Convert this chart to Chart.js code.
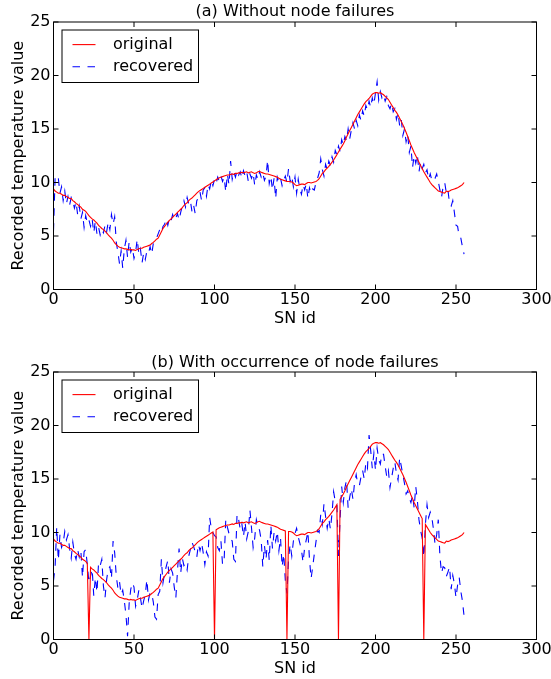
<!DOCTYPE html>
<html>
<head>
<meta charset="utf-8">
<script src="https://cdn.jsdelivr.net/npm/chart.js@4/dist/chart.umd.min.js"></script>
<style>
  html, body { margin: 0; padding: 0; background: #fff; overflow: hidden; }
  .panel { position: absolute; left: 0; width: 551px; }
  #panelA { top: 0; height: 340px; }
  #panelB { top: 340px; height: 339px; }
</style>
</head>
<body>
<div class="panel" id="panelA"><canvas id="chartA"></canvas></div>
<div class="panel" id="panelB"><canvas id="chartB"></canvas></div>
<script>
// SN ids 0..255 on the x axis
const sensorIds = Array.from({length: 256}, (_, i) => i);

// ids whose reading dropped to 0 in panel (b)
const failedNodes = [22, 100, 145, 177, 230];

const originalTemp = [
  9.4, 9.2, 9.1, 9.0, 9.0, 8.9, 8.8, 8.8, 8.7, 8.6, 8.5, 8.5, 8.3, 8.2, 8.05, 7.95,
  7.8, 7.7, 7.5, 7.4, 7.3, 7.1, 6.9, 6.75, 6.6, 6.5, 6.35, 6.2, 6.0, 5.85, 5.7, 5.6,
  5.45, 5.3, 5.1, 4.95, 4.8, 4.6, 4.35, 4.2, 4.05, 3.95, 3.9, 3.85, 3.8, 3.8, 3.75, 3.7,
  3.75, 3.7, 3.7, 3.65, 3.75, 3.8, 3.85, 3.85, 3.95, 4.0, 4.05, 4.1, 4.15, 4.3, 4.4, 4.55,
  4.7, 4.8, 5.1, 5.4, 5.7, 5.9, 6.1, 6.3, 6.45, 6.6, 6.75, 6.9, 7.05, 7.2, 7.35, 7.5,
  7.65, 7.85, 8.0, 8.1, 8.3, 8.45, 8.55, 8.7, 8.85, 9.0, 9.15, 9.25, 9.35, 9.45, 9.55, 9.65,
  9.75, 9.85, 9.95, 10.05, 10.15, 10.25, 10.35, 10.45, 10.5, 10.55, 10.6, 10.65, 10.7, 10.7, 10.75, 10.8,
  10.75, 10.85, 10.85, 10.9, 10.9, 10.95, 10.9, 10.95, 11.0, 10.9, 10.95, 11.0, 10.9, 10.85, 10.9, 11.0,
  11.05, 10.95, 10.9, 10.85, 10.8, 10.8, 10.75, 10.7, 10.65, 10.6, 10.55, 10.5, 10.4, 10.3, 10.25, 10.2,
  10.15, 10.1, 10.1, 10.1, 10.05, 9.95, 9.8, 9.7, 9.75, 9.8, 9.85, 9.85, 9.8, 9.9, 10.0, 10.0,
  9.95, 10.0, 10.05, 10.1, 10.2, 10.35, 10.6, 10.85, 11.0, 11.2, 11.35, 11.5, 11.7, 11.9, 12.1, 12.35,
  12.6, 12.85, 13.1, 13.35, 13.6, 13.9, 14.25, 14.55, 14.85, 15.15, 15.45, 15.75, 16.05, 16.35, 16.6, 16.85,
  17.1, 17.35, 17.55, 17.7, 17.85, 18.05, 18.25, 18.35, 18.4, 18.4, 18.35, 18.4, 18.3, 18.2, 18.05, 17.9,
  17.75, 17.5, 17.25, 17.0, 16.75, 16.55, 16.3, 16.0, 15.7, 15.4, 15.05, 14.7, 14.3, 13.9, 13.5, 13.15,
  12.8, 12.5, 12.2, 11.9, 11.6, 11.3, 11.0, 10.75, 10.5, 10.25, 10.0, 9.8, 9.65, 9.5, 9.35, 9.2,
  9.15, 9.1, 9.05, 9.0, 9.2, 9.15, 9.2, 9.3, 9.35, 9.4, 9.45, 9.5, 9.6, 9.7, 9.8, 10.0
];

const recoveredA = [
  5.5, 10.5, 10.2, 10.4, 9.0, 9.6, 8.3, 9.2, 8.0, 8.7, 7.9, 8.6, 8.3, 7.6, 8.2, 7.0,
  7.8, 6.6, 7.2, 5.8, 6.9, 6.2, 6.5, 5.9, 6.6, 5.3, 6.4, 5.2, 5.8, 5.1, 5.6, 5.3,
  6.0, 5.4, 6.3, 5.6, 7.0, 6.1, 6.8, 4.4, 3.5, 2.4, 3.6, 2.0, 3.8, 4.6, 3.0, 4.5,
  3.5, 3.9, 2.9, 3.5, 4.7, 3.3, 3.8, 2.5, 3.4, 2.8, 3.6, 3.4, 4.0, 3.3, 4.3, 4.5,
  4.8, 5.2, 5.6, 5.3, 5.9, 6.1, 6.6, 6.0, 6.7, 6.4, 7.0, 6.5, 6.7, 7.1, 6.5, 7.2,
  7.8, 8.3, 7.7, 8.6, 8.0, 8.3, 7.3, 7.9, 7.1, 8.3, 8.6, 9.1, 8.3, 9.3, 9.5, 8.7,
  9.8, 9.4, 10.2, 9.7, 10.3, 9.9, 10.5, 10.1, 10.6, 10.1, 10.5, 9.1, 10.8, 9.8, 12.0, 10.3,
  11.0, 10.5, 11.1, 10.7, 11.0, 10.4, 11.1, 10.6, 11.0, 10.1, 10.8, 10.4, 10.9, 9.7, 10.7, 10.3,
  11.0, 10.5, 10.9, 10.2, 10.6, 12.1, 9.9, 10.6, 9.3, 10.4, 8.5, 10.5, 10.0, 10.4, 9.7, 10.2,
  10.6, 10.0, 11.3, 10.1, 10.6, 9.6, 10.5, 9.0, 10.3, 9.4, 8.9, 9.8, 9.3, 9.9, 8.5, 9.5,
  9.0, 9.4, 9.3, 10.0, 10.4, 10.9, 12.2, 11.2, 10.6, 11.7, 11.2, 12.0, 11.6, 12.4, 11.9, 13.0,
  12.6, 13.4, 12.9, 14.0, 13.5, 14.3, 13.9, 15.0, 14.1, 14.9, 15.6, 15.0, 15.8, 15.3, 16.3, 15.8,
  16.7, 16.2, 17.2, 16.8, 17.6, 17.0, 17.9, 17.3, 18.4, 19.4, 17.7, 18.5, 17.9, 18.2, 17.6, 18.0,
  17.2, 16.9, 17.4, 16.6, 16.9, 15.9, 16.5, 15.3, 15.9, 14.4, 15.0, 13.8, 14.5, 12.8, 13.4, 11.4,
  12.5, 11.8, 12.6, 11.0, 11.9, 11.3, 11.7, 10.9, 11.2, 10.3, 10.8, 10.2, 10.5, 10.4, 10.8, 10.1,
  9.3, 8.6, 9.6, 10.0, 9.0, 9.3, 8.0, 7.8, 8.3, 7.2, 6.0, 5.9, 4.9, 4.8, 4.0, 3.3
];

const recoveredB = [
  5.5, 6.8, 10.5, 7.4, 9.8, 8.6, 9.0, 10.1, 9.3, 9.8, 8.5, 7.6, 9.1, 8.0, 7.5, 8.4,
  7.7, 8.3, 5.8, 8.2, 8.4, 7.0, 5.3, 5.9, 6.6, 4.1, 5.8, 4.4, 7.2, 6.9, 7.5, 5.0,
  3.9, 5.6, 6.6, 6.8, 5.7, 9.2, 8.1, 5.9, 4.8, 5.4, 4.2, 4.6, 3.6, 2.3, 0.3, 3.4,
  4.7, 5.3, 4.9, 3.1, 3.7, 4.6, 3.9, 2.9, 3.6, 4.2, 5.6, 3.7, 4.4, 4.3, 3.5, 2.1,
  1.9, 4.2, 4.5, 7.5, 5.3, 6.2, 6.8, 7.4, 5.3, 6.6, 6.2, 4.9, 3.9, 6.4, 8.5, 6.2,
  7.6, 6.9, 7.1, 6.5, 7.8, 8.4, 9.1, 8.7, 8.2, 7.7, 8.9, 8.3, 9.0, 8.1, 7.0, 8.2,
  7.8, 11.4, 10.4, 10.0, 9.7, 9.6, 8.6, 8.3, 9.2, 7.0, 7.5, 11.2, 10.5, 9.9, 9.4, 9.2,
  7.5, 7.3, 11.7, 11.2, 10.3, 10.8, 9.6, 11.0, 9.4, 10.1, 12.1, 10.4, 8.6, 9.5, 11.2, 10.6,
  10.2, 9.3, 6.8, 8.8, 7.5, 9.3, 7.4, 10.7, 8.5, 10.0, 9.2, 10.1, 8.3, 9.5, 6.8, 8.0,
  5.5, 4.3, 7.6, 8.9, 7.8, 9.2, 9.9, 10.4, 9.6, 9.0, 8.4, 7.2, 8.6, 9.3, 10.1, 7.5,
  5.7, 6.8, 8.0, 9.1, 10.2, 10.0, 11.7, 10.8, 12.7, 11.5, 10.4, 11.3, 10.3, 11.8, 13.8, 12.9,
  12.8, 7.8, 11.2, 14.3, 12.8, 14.2, 14.9, 12.3, 13.3, 14.1, 13.1, 14.7, 15.4, 14.5, 14.4, 15.2,
  15.8, 15.0, 16.5, 16.0, 19.1, 17.7, 16.0, 17.4, 15.8, 17.9, 16.8, 16.4, 17.4, 17.3, 16.2, 15.2,
  15.8, 14.2, 15.1, 16.0, 16.6, 15.5, 14.9, 17.0, 16.2, 15.4, 14.6, 13.6, 13.9, 13.2, 12.8, 13.5,
  12.3, 14.3, 13.0, 11.2, 10.2, 9.5, 7.7, 10.8, 12.6, 11.4, 11.9, 11.4, 10.3, 8.9, 9.8, 11.2,
  7.8, 6.2, 6.8, 6.7, 5.9, 6.3, 6.8, 4.7, 6.0, 5.2, 3.9, 5.1, 5.8, 4.5, 3.6, 2.2
];

// original curve in (b): same readings, failed nodes report 0
const originalB = originalTemp.map((v, i) => failedNodes.includes(i) ? 0 : v);

Chart.defaults.font.family = '"DejaVu Sans", sans-serif';
Chart.defaults.font.size = 16;
Chart.defaults.color = '#000';

// matplotlib-like box with inward ticks on all four sides
const framePlugin = {
  id: 'frame',
  afterDatasetsDraw(chart) {
    const {ctx, chartArea: a, scales: {x, y}} = chart;
    ctx.save();
    ctx.strokeStyle = '#000';
    ctx.lineWidth = 1;
    ctx.strokeRect(a.left, a.top, a.right - a.left, a.bottom - a.top);
    ctx.beginPath();
    x.ticks.forEach(t => {
      const px = x.getPixelForValue(t.value);
      ctx.moveTo(px, a.bottom); ctx.lineTo(px, a.bottom - 5);
      ctx.moveTo(px, a.top); ctx.lineTo(px, a.top + 5);
    });
    y.ticks.forEach(t => {
      const py = y.getPixelForValue(t.value);
      ctx.moveTo(a.left, py); ctx.lineTo(a.left + 5, py);
      ctx.moveTo(a.right, py); ctx.lineTo(a.right - 5, py);
    });
    ctx.stroke();
    ctx.restore();
  }
};

// legend drawn inside the upper left corner of the plot
const boxLegendPlugin = {
  id: 'boxLegend',
  afterDraw(chart) {
    const {ctx, chartArea: a} = chart;
    const left = a.left + 8.5, top = a.top + 8;
    ctx.save();
    ctx.fillStyle = '#fff';
    ctx.fillRect(left, top, 136.5, 52.5);
    ctx.strokeStyle = '#000';
    ctx.lineWidth = 1;
    ctx.strokeRect(left, top, 136.5, 52.5);
    chart.data.datasets.forEach((ds, i) => {
      const yy = top + 14.6 + i * 22.2;
      ctx.strokeStyle = ds.borderColor;
      ctx.lineWidth = ds.borderWidth;
      ctx.setLineDash(ds.borderDash || []);
      ctx.beginPath();
      ctx.moveTo(left + 10.5, yy);
      ctx.lineTo(left + 33.5, yy);
      ctx.stroke();
      ctx.setLineDash([]);
      ctx.fillStyle = '#000';
      ctx.font = '16px "DejaVu Sans"';
      ctx.textAlign = 'left';
      ctx.textBaseline = 'middle';
      ctx.fillText(ds.label, left + 51, yy);
    });
    ctx.restore();
  }
};

function buildChart(canvasId, titleText, original, recovered, titlePad, xScaleHeight, xTitlePad) {
  return new Chart(document.getElementById(canvasId), {
    type: 'line',
    data: {
      labels: sensorIds,
      datasets: [
        {label: 'original', data: original, borderColor: '#ff0000', borderWidth: 1.1,
         pointRadius: 0, tension: 0, fill: false},
        {label: 'recovered', data: recovered, borderColor: '#0000ff', borderWidth: 1.1,
         borderDash: [7.5, 7.5], pointRadius: 0, tension: 0, fill: false}
      ]
    },
    options: {
      responsive: true,
      maintainAspectRatio: false,
      animation: false,
      layout: {padding: {left: 0, right: 14.5, top: 0, bottom: 0}},
      scales: {
        x: {
          type: 'linear', min: 0, max: 300,
          ticks: {stepSize: 50, padding: 1, maxRotation: 0},
          grid: {display: false, drawTicks: false},
          border: {display: false},
          title: {display: true, text: 'SN id', padding: {top: 0, bottom: xTitlePad}},
          afterFit: s => { s.height = xScaleHeight; s.paddingLeft = 0; s.paddingRight = 0; }
        },
        y: {
          min: 0, max: 25,
          ticks: {stepSize: 5, padding: 3},
          grid: {display: false, drawTicks: false},
          border: {display: false},
          title: {display: true, text: 'Recorded temperature value', padding: {top: 9, bottom: 0}},
          afterFit: s => { s.width = 53.5; }
        }
      },
      plugins: {
        legend: {display: false},
        tooltip: {enabled: false},
        // centred over the plot area, like the axes title in the reference
        title: {display: true, fullSize: false, text: titleText,
                font: {size: 16, weight: 'normal'}, padding: titlePad}
      }
    },
    plugins: [framePlugin, boxLegendPlugin]
  });
}

buildChart('chartA', '(a) Without node failures', originalTemp, recoveredA,
  {top: 2, bottom: 0.8}, 50.5, 11.4);
buildChart('chartB', '(b) With occurrence of node failures', originalB, recoveredB,
  {top: 12.8, bottom: 0}, 39.5, 1);
</script>
</body>
</html>
